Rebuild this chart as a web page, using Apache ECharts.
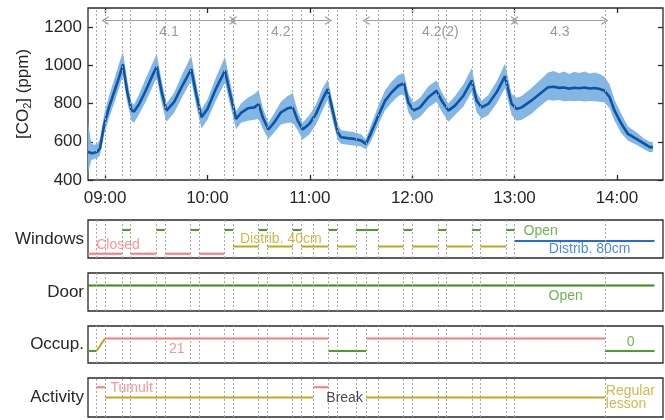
<!DOCTYPE html>
<html><head><meta charset="utf-8">
<script src="https://cdn.jsdelivr.net/npm/echarts@6/dist/echarts.min.js"></script>
<style>html,body{margin:0;padding:0;background:#fff}#c{width:665px;height:420px}</style>
</head><body><div id="c"></div>
<script>
// ---- data ----
const hourTicks = [540, 600, 660, 720, 780, 840];
const hourLabels = ['09:00', '10:00', '11:00', '12:00', '13:00', '14:00'];
const co2Ticks = [400, 600, 800, 1000, 1200];

const co2Time = [530,532,533.5,535.5,537,539.5,542.3,545.3,548.2,550.5,553,555.5,557,560,563.8,567.7,570.3,573.2,576,580.4,585.3,590.5,593.6,596.5,600,604.9,610.3,613.1,616.8,619.7,623.6,627.5,630,632.4,635.7,639.2,643.1,647,650,652.9,655.8,659.8,663.6,667.5,670.5,673.4,676.3,678.3,682.2,686.1,690,692.9,696,700.2,704.1,708,711.9,715.2,717.7,720.7,724.6,729.5,734.3,737.3,741.2,745.1,750,754.9,757.8,760.7,764.6,769.5,774.4,778.3,781.2,784.2,789.8,794.7,799.6,803,806,809,812,815,818,821,824,827,830,832.8,835.7,838.6,842.6,846.5,851.4,856.2,859.2,861.1];
const co2Mean = [548,540,542,548,565,690,780,859,937,1005,860,765,758,798,867,946,994,859,763,807,894,980,841,728,772,876,972,859,720,751,775,780,798,728,664,702,754,775,780,711,664,694,746,824,876,763,650,624,619,615,607,589,648,737,815,859,893,906,807,763,780,833,867,815,763,789,841,920,815,780,798,859,942,798,772,780,815,850,885,888,882,884,878,883,880,884,879,881,876,867,833,763,694,641,615,589,572,572];
const co2Low = [440,505,510,515,530,640,725,800,880,945,805,710,700,745,810,885,935,800,705,750,835,920,780,670,715,815,910,800,665,700,710,715,720,670,615,650,690,700,700,660,610,640,690,765,820,710,610,590,585,580,575,560,605,690,765,805,840,850,755,710,730,780,810,760,705,740,785,860,755,720,740,800,880,740,710,715,745,785,820,815,818,812,815,812,815,811,814,812,810,805,775,710,645,605,585,560,545,548];
const co2High = [700,590,585,590,615,745,840,925,1010,1070,920,805,795,850,930,1010,1060,920,800,855,955,1050,900,770,820,935,1045,920,760,800,830,850,870,780,700,750,810,840,855,760,700,740,795,880,925,810,690,660,655,650,640,615,690,790,870,915,950,960,855,805,830,890,920,860,800,840,900,985,860,815,845,915,1010,850,830,840,880,920,962,970,958,968,955,966,960,968,957,962,955,940,900,820,745,680,650,615,600,598];

// window / event times (vertical dotted lines)
const eventTimes = [535,540,550,555,570,575,590,595,610,615,630,635,650,655,662,671,676,687,693,700,715,720,735,740,755,760,775,780,833];

// phase annotations: [start, end, label]
const phases = [[540,615,'4.1'],[615,671,'4.2'],[693,780,'4.2(2)'],[780,833,'4.3']];

// windows: [start, end, state]
const windowSegments = [[530,550,'closed'],[550,555,'open'],[555,570,'closed'],[570,575,'open'],[575,590,'closed'],[590,595,'open'],[595,610,'closed'],[610,615,'open'],[615,630,'d40'],[630,635,'open'],[635,650,'d40'],[650,655,'open'],[655,671,'d40'],[671,676,'open'],[676,687,'d40'],[687,700,'open'],[700,715,'d40'],[715,720,'open'],[720,735,'d40'],[735,740,'open'],[740,755,'d40'],[755,760,'open'],[760,775,'d40'],[775,780,'open'],[780,862,'d80']];
const doorSegments = [[530,862,'open']];
// occupancy: [start, end, startCount, endCount]
const occSegments = [[530,535,0,0],[535,540,0,21],[540,671,21,21],[671,693,0,0],[693,833,21,21],[833,862,0,0]];
// activity: [start, end, state]
const activitySegments = [[535,540,'tumult'],[540,662,'lesson'],[662,671,'tumult'],[693,833,'lesson']];

// in-panel texts: [panel, time, level, text, colourKey]
const panelTexts = [
  ['win', 547.6, 0.33, 'Closed', 'red'],
  ['win', 643, 0.50, 'Distrib. 40cm', 'olive'],
  ['win', 795.3, 0.695, 'Open', 'green'],
  ['win', 824, 0.235, 'Distrib. 80cm', 'blue'],
  ['door', 810, 0.38, 'Open', 'green'],
  ['occ', 582, 2.8, '21', 'red'],
  ['occ', 848, 14.4, '0', 'green'],
  ['act', 555.6, 1.9, 'Tumult', 'red'],
  ['act', 680.4, 0.91, 'Break', 'black'],
  ['act', 833.5, 1.03, 'Regular\nlesson', 'olive']
];

// ---- styles ----
const C = {red:'#ff7878', olive:'#c2a71e', green:'#4c9e28', blue:'#1f6fd6', black:'#1a1a1a', door:'#3a8a12'};
const winLevel = {closed:0.11, d40:0.30, d80:0.45, open:0.74};
const winColor = {closed:C.red, d40:C.olive, d80:C.blue, open:C.green};
const actLevel = {tumult:2, lesson:1};
const actColor = {tumult:C.red, lesson:C.olive};
const FONT = 'Liberation Sans, Arial, sans-serif';
const xMin = 530, xMax = 867;

const grids = [
  {left:88, top:8, width:575, height:172},
  {left:88, top:220, width:575, height:38},
  {left:88, top:273, width:575, height:38},
  {left:88, top:326, width:575, height:37},
  {left:88, top:378, width:575, height:39}
].map(g => Object.assign(g, {show:true, borderColor:'#2a2a2a', borderWidth:1.3, backgroundColor:'#fff'}));

function fmt(v){const h=Math.floor(v/60), m=Math.round(v%60);return (h<10?'0':'')+h+':'+(m<10?'0':'')+m;}

const xAxes = [];
for (let i=0;i<5;i++){
  xAxes.push({type:'value', gridIndex:i, min:xMin, max:xMax, position:'bottom',
    axisLine:{show:false}, splitLine:{show:false},
    axisTick: i===0 ? {show:true, inside:true, length:5, customValues:hourTicks, lineStyle:{color:'#2a2a2a', width:1.3}} : {show:false},
    axisLabel: i===0 ? {show:true, customValues:hourTicks, margin:10, fontSize:17, fontFamily:FONT, color:'#262626', formatter:v=>hourLabels[hourTicks.indexOf(v)] || fmt(v)} : {show:false}
  });
}
// top mirrored ticks
xAxes.push({type:'value', gridIndex:0, min:xMin, max:xMax, position:'top', axisLine:{show:false}, splitLine:{show:false},
  axisTick:{show:true, inside:true, length:5, customValues:hourTicks, lineStyle:{color:'#2a2a2a', width:1.3}}, axisLabel:{show:false}});

const panelName = (t) => ({name:t, nameLocation:'middle', nameRotate:0, nameGap:4,
  nameTextStyle:{fontSize:17, fontFamily:FONT, color:'#262626', align:'right', verticalAlign:'middle'}});
const hidden = {axisLine:{show:false}, axisTick:{show:false}, axisLabel:{show:false}, splitLine:{show:false}};

const yAxes = [
  {type:'value', gridIndex:0, min:400, max:1300, position:'left',
    axisLine:{show:false}, splitLine:{show:false},
    axisTick:{show:true, inside:true, length:5, customValues:co2Ticks, lineStyle:{color:'#2a2a2a', width:1.3}},
    axisLabel:{show:true, customValues:co2Ticks, margin:6, fontSize:17, fontFamily:FONT, color:'#262626', formatter:v=>String(v)},
    name:'[CO{s|2}] (ppm)', nameLocation:'middle', nameRotate:90, nameGap:42,
    nameTextStyle:{fontSize:17, fontFamily:FONT, color:'#262626', rich:{s:{fontSize:11, fontFamily:FONT, color:'#262626', padding:[9,0,0,0]}}}},
  Object.assign({type:'value', gridIndex:1, min:0, max:1}, hidden, panelName('Windows')),
  Object.assign({type:'value', gridIndex:2, min:0, max:1}, hidden, panelName('Door')),
  Object.assign({type:'value', gridIndex:3, min:-20.3, max:41.8}, hidden, panelName('Occup.')),
  Object.assign({type:'value', gridIndex:4, min:-0.923, max:2.923}, hidden, panelName('Activity')),
  {type:'value', gridIndex:0, min:400, max:1300, position:'right', axisLine:{show:false}, splitLine:{show:false},
    axisTick:{show:true, inside:true, length:5, customValues:co2Ticks, lineStyle:{color:'#2a2a2a', width:1.3}}, axisLabel:{show:false}}
];

const dotted = {color:'#a8a8a8', width:1, type:[2,2]};
function vlines(){
  return {silent:true, symbol:['none','none'], label:{show:false}, lineStyle:dotted, animation:false,
    data: eventTimes.map(t => ({xAxis:t}))};
}

const series = [];
// band polygon (custom series, coordinates through the axes)
series.push({type:'custom', xAxisIndex:0, yAxisIndex:0, silent:true, clip:true, z:2,
  data:[[co2Time[0], co2Low[0]]],
  renderItem:function(params, api){
    const pts=[];
    for (let i=0;i<co2Time.length;i++) pts.push(api.coord([co2Time[i], co2High[i]]));
    for (let i=co2Time.length-1;i>=0;i--) pts.push(api.coord([co2Time[i], co2Low[i]]));
    return {type:'polygon', shape:{points:pts}, style:{fill:'#7db2e2', stroke:'none', opacity:0.95}};
  }
});
// dotted lines in top panel
series.push({type:'line', xAxisIndex:0, yAxisIndex:0, symbol:'none', silent:true, lineStyle:{opacity:0},
  data:[[xMin, null]], markLine: vlines(), z:1});
// mean + phase arrows
const chevron = 'path://M0,10 L5,0 L10,10 L8.3,10 L5,3.2 L1.7,10 Z';
series.push({type:'line', xAxisIndex:0, yAxisIndex:0, symbol:'none', silent:true,
  lineStyle:{color:'#0a55a8', width:2.6}, data: co2Time.map((t,i)=>[t, co2Mean[i]]), z:3,
  markLine:{silent:true, animation:false, symbol:[chevron, chevron], symbolSize:[9,7],
    lineStyle:{color:'#a0a0a0', width:1, type:'solid'},
    label:{show:true, position:'insideMiddleBottom', distance:5, color:'#9a9a9a', fontSize:14, fontFamily:FONT},
    data: phases.map(p => [{coord:[p[0],1235], name:p[2]}, {coord:[p[1],1235]}])}});

// generic segment series builder
function segSeries(gi, segs, levelFn, colour, width){
  const d=[];
  segs.forEach(s=>{ d.push([s[0], levelFn(s,0)]); d.push([s[1], levelFn(s,1)]); d.push([s[1], '-']); });
  return {type:'line', xAxisIndex:gi, yAxisIndex:gi, symbol:'none', silent:true, connectNulls:false,
    lineStyle:{color:colour, width:width||2}, data:d, z:3};
}
// windows
['closed','d40','d80','open'].forEach(st=>{
  series.push(segSeries(1, windowSegments.filter(s=>s[2]===st), ()=>winLevel[st], winColor[st], 2));
});
// door
series.push(segSeries(2, doorSegments, ()=>0.67, C.door, 2));
// occupancy
series.push(segSeries(3, occSegments.filter(s=>s[2]===0&&s[3]===0), (s,k)=>k?s[3]:s[2], C.green, 2));
series.push(segSeries(3, occSegments.filter(s=>s[2]===21&&s[3]===21), (s,k)=>k?s[3]:s[2], C.red, 2));
series.push(segSeries(3, occSegments.filter(s=>s[2]!==s[3]), (s,k)=>k?s[3]:s[2], C.olive, 2));
// activity
['tumult','lesson'].forEach(st=>{
  series.push(segSeries(4, activitySegments.filter(s=>s[2]===st), ()=>actLevel[st], actColor[st], 2));
});
// dotted event lines in the lower panels
for (let gi=1; gi<5; gi++){
  series.push({type:'line', xAxisIndex:gi, yAxisIndex:gi, symbol:'none', silent:true, lineStyle:{opacity:0},
    data:[[xMin, null]], markLine: vlines(), z:1});
}
// texts
const panelIndex = {win:1, door:2, occ:3, act:4};
Object.keys(panelIndex).forEach(p=>{
  const gi = panelIndex[p];
  series.push({type:'scatter', xAxisIndex:gi, yAxisIndex:gi, symbolSize:0, silent:true, z:5,
    data: panelTexts.filter(t=>t[0]===p).map(t=>({value:[t[1], t[2]], name:t[3],
      label:{color:C[t[4]], align: t[3].indexOf('\n')>=0 ? 'left':'center', lineHeight:13}})),
    label:{show:true, position:'inside', formatter:q=>q.name, fontSize:14, fontFamily:FONT, verticalAlign:'middle'}});
});

const chart = echarts.init(document.getElementById('c'), null, {renderer:'canvas'});
chart.setOption({animation:false, backgroundColor:'#fff', grid:grids, xAxis:xAxes, yAxis:yAxes, series:series});
</script></body></html>
